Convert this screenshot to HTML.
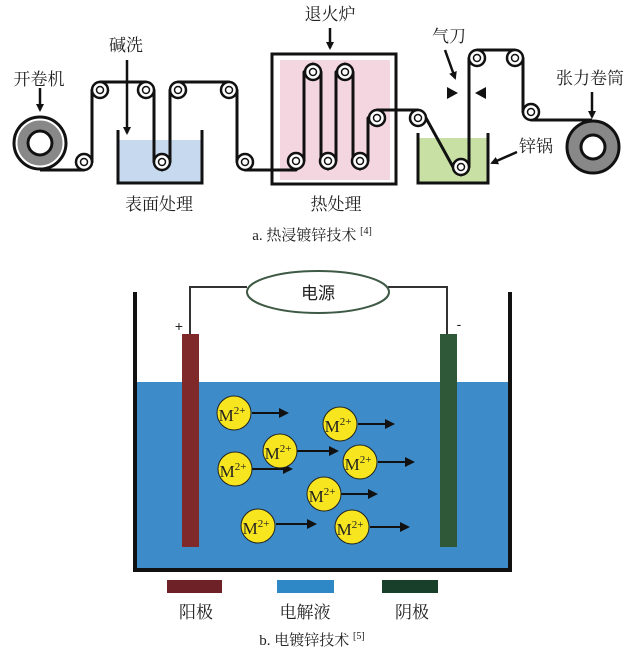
<!DOCTYPE html>
<html><head><meta charset="utf-8"><style>
body{margin:0;background:#fff}
svg{display:block}
text{font-family:"Liberation Serif","Noto Serif CJK SC","Noto Sans CJK SC",serif;fill:#222}
.c{font-family:"Liberation Sans","Noto Sans CJK SC",sans-serif}
</style></head><body>
<svg width="630" height="654" viewBox="0 0 630 654" xmlns="http://www.w3.org/2000/svg">
<defs>
<marker id="ah" markerWidth="8" markerHeight="8" refX="6" refY="4" orient="auto" markerUnits="userSpaceOnUse"><path d="M0,0 L8,4 L0,8 z" fill="#111"/></marker>
<marker id="ah2" markerWidth="10" markerHeight="10" refX="8" refY="5" orient="auto" markerUnits="userSpaceOnUse"><path d="M0,0 L10,5 L0,10 z" fill="#111"/></marker>
</defs>
<rect x="272" y="54" width="124" height="130" fill="#fff" stroke="#111" stroke-width="3"/>
<rect x="280" y="60" width="110" height="120" fill="#f1cfd9" opacity="0.85"/>
<rect x="118" y="140" width="84" height="43" fill="#c6d9ef"/>
<path d="M118,130 V183 H202 V130" fill="none" stroke="#111" stroke-width="3"/>
<rect x="418" y="138" width="70" height="45" fill="#c8e0a4"/>
<path d="M418,133 V183 H488 V133" fill="none" stroke="#111" stroke-width="3"/>
<path d="M40,170 H84 L92,162 V90 L100,82 H146 L154,90 V162 L162,170 L170,162 V90 L178,82 H229 L237,90 V162 L245,170 H296 L304,161 V72 L313,64 L321,72 V161 L328,169 L336,161 V72 L345,64 L353,72 V161 L360,169 L368,161 V118 L377,110 H418 L426,118 L453,167 L461,175 L469,167 V58 L477,50 H515 L523,58 V112 L531,120 H592" fill="none" stroke="#111" stroke-width="3" stroke-linejoin="round"/>
<g fill="#fff" stroke="#111" stroke-width="2.5">
<circle cx="84" cy="162" r="8"/><circle cx="100" cy="90" r="8"/><circle cx="146" cy="90" r="8"/><circle cx="162" cy="162" r="8"/><circle cx="178" cy="90" r="8"/><circle cx="229" cy="90" r="8"/><circle cx="245" cy="162" r="8"/><circle cx="296" cy="161" r="8"/><circle cx="313" cy="72" r="8"/><circle cx="345" cy="72" r="8"/><circle cx="328" cy="161" r="8"/><circle cx="360" cy="161" r="8"/><circle cx="377" cy="118" r="8"/><circle cx="418" cy="118" r="8"/><circle cx="461" cy="167" r="8"/><circle cx="477" cy="58" r="8"/><circle cx="515" cy="58" r="8"/><circle cx="531" cy="112" r="8"/>
</g>
<g fill="none" stroke="#111" stroke-width="1.5">
<circle cx="84" cy="162" r="3.5"/><circle cx="100" cy="90" r="3.5"/><circle cx="146" cy="90" r="3.5"/><circle cx="162" cy="162" r="3.5"/><circle cx="178" cy="90" r="3.5"/><circle cx="229" cy="90" r="3.5"/><circle cx="245" cy="162" r="3.5"/><circle cx="296" cy="161" r="3.5"/><circle cx="313" cy="72" r="3.5"/><circle cx="345" cy="72" r="3.5"/><circle cx="328" cy="161" r="3.5"/><circle cx="360" cy="161" r="3.5"/><circle cx="377" cy="118" r="3.5"/><circle cx="418" cy="118" r="3.5"/><circle cx="461" cy="167" r="3.5"/><circle cx="477" cy="58" r="3.5"/><circle cx="515" cy="58" r="3.5"/><circle cx="531" cy="112" r="3.5"/>
</g>
<circle cx="40" cy="143" r="18" fill="none" stroke="#888" stroke-width="9"/>
<circle cx="40" cy="143" r="26" fill="none" stroke="#111" stroke-width="3"/>
<circle cx="40" cy="143" r="12" fill="#fff" stroke="#111" stroke-width="3"/>
<circle cx="593" cy="147" r="19" fill="none" stroke="#888" stroke-width="12"/>
<circle cx="593" cy="147" r="26" fill="none" stroke="#111" stroke-width="3"/>
<circle cx="593" cy="147" r="12" fill="#fff" stroke="#111" stroke-width="3"/>
<path d="M447,87 L458,93 L447,99 z" fill="#111"/><path d="M486,87 L475,93 L486,99 z" fill="#111"/>
<g stroke="#111" stroke-width="2.5" fill="none">
<line x1="40" y1="88" x2="40" y2="110" marker-end="url(#ah)"/>
<line x1="127" y1="60" x2="127" y2="133" marker-end="url(#ah)"/>
<line x1="330" y1="28" x2="330" y2="48" marker-end="url(#ah)"/>
<line x1="445" y1="50" x2="455" y2="78" marker-end="url(#ah)"/>
<line x1="592" y1="92" x2="592" y2="117" marker-end="url(#ah)"/>
<line x1="517" y1="152" x2="492" y2="163" marker-end="url(#ah)"/>
</g>
<g class="c" font-size="17">
<text x="39" y="85" text-anchor="middle">开卷机</text>
<text x="126" y="51" text-anchor="middle">碱洗</text>
<text x="330" y="20" text-anchor="middle">退火炉</text>
<text x="449" y="42" text-anchor="middle">气刀</text>
<text x="590" y="84" text-anchor="middle">张力卷筒</text>
<text x="519" y="152">锌锅</text>
<text x="159" y="210" text-anchor="middle">表面处理</text>
<text x="336" y="210" text-anchor="middle">热处理</text>
</g>
<text x="312" y="240" font-size="15" text-anchor="middle">a. 热浸镀锌技术 <tspan font-size="10" dy="-6">[4]</tspan></text>
<rect x="135" y="382" width="375" height="188" fill="#3d8cc9"/>
<path d="M135,292 V570 H510 V292" fill="none" stroke="#111" stroke-width="4"/>
<path d="M190,334 V287 H247 M388,287 H447 V334" fill="none" stroke="#333" stroke-width="2"/>
<ellipse cx="318" cy="292" rx="71" ry="21" fill="#fff" stroke="#3e5a45" stroke-width="2"/>
<text class="c" x="318" y="299" font-size="17" text-anchor="middle">电源</text>
<text class="c" x="179" y="331" font-size="14" text-anchor="middle">+</text>
<text class="c" x="459" y="329" font-size="14" text-anchor="middle">-</text>
<rect x="182" y="334" width="17" height="213" fill="#80292a"/>
<rect x="440" y="334" width="17" height="213" fill="#2f5838"/>
<g stroke="#111" stroke-width="2">
<line x1="252" y1="413" x2="287" y2="413" marker-end="url(#ah2)"/>
<line x1="358" y1="424" x2="393" y2="424" marker-end="url(#ah2)"/>
<line x1="297" y1="451" x2="337" y2="451" marker-end="url(#ah2)"/>
<line x1="252" y1="469" x2="291" y2="469" marker-end="url(#ah2)"/>
<line x1="378" y1="462" x2="413" y2="462" marker-end="url(#ah2)"/>
<line x1="341" y1="494" x2="376" y2="494" marker-end="url(#ah2)"/>
<line x1="276" y1="524" x2="315" y2="524" marker-end="url(#ah2)"/>
<line x1="370" y1="527" x2="408" y2="527" marker-end="url(#ah2)"/>
</g>
<g fill="#f6e51f" stroke="#222" stroke-width="1">
<circle cx="234" cy="413" r="17"/><circle cx="340" cy="424" r="17"/><circle cx="280" cy="451" r="17"/><circle cx="235" cy="469" r="17"/><circle cx="360" cy="462" r="17"/><circle cx="324" cy="494" r="17"/><circle cx="258" cy="526" r="17"/><circle cx="352" cy="527" r="17"/>
</g>
<g font-size="17" text-anchor="middle">
<text x="232" y="421">M<tspan font-size="11" dy="-7">2+</tspan></text>
<text x="338" y="432">M<tspan font-size="11" dy="-7">2+</tspan></text>
<text x="278" y="459">M<tspan font-size="11" dy="-7">2+</tspan></text>
<text x="233" y="477">M<tspan font-size="11" dy="-7">2+</tspan></text>
<text x="358" y="470">M<tspan font-size="11" dy="-7">2+</tspan></text>
<text x="322" y="502">M<tspan font-size="11" dy="-7">2+</tspan></text>
<text x="256" y="534">M<tspan font-size="11" dy="-7">2+</tspan></text>
<text x="350" y="535">M<tspan font-size="11" dy="-7">2+</tspan></text>
</g>
<rect x="167" y="580" width="55" height="13" fill="#6e2227"/>
<rect x="277" y="580" width="57" height="13" fill="#2f88c6"/>
<rect x="382" y="580" width="56" height="13" fill="#173f2a"/>
<g class="c" font-size="17" text-anchor="middle">
<text x="196" y="618">阳极</text><text x="305" y="618">电解液</text><text x="412" y="618">阴极</text>
</g>
<text x="312" y="645" font-size="15" text-anchor="middle">b. 电镀锌技术 <tspan font-size="10" dy="-6">[5]</tspan></text>
</svg>
</body></html>
